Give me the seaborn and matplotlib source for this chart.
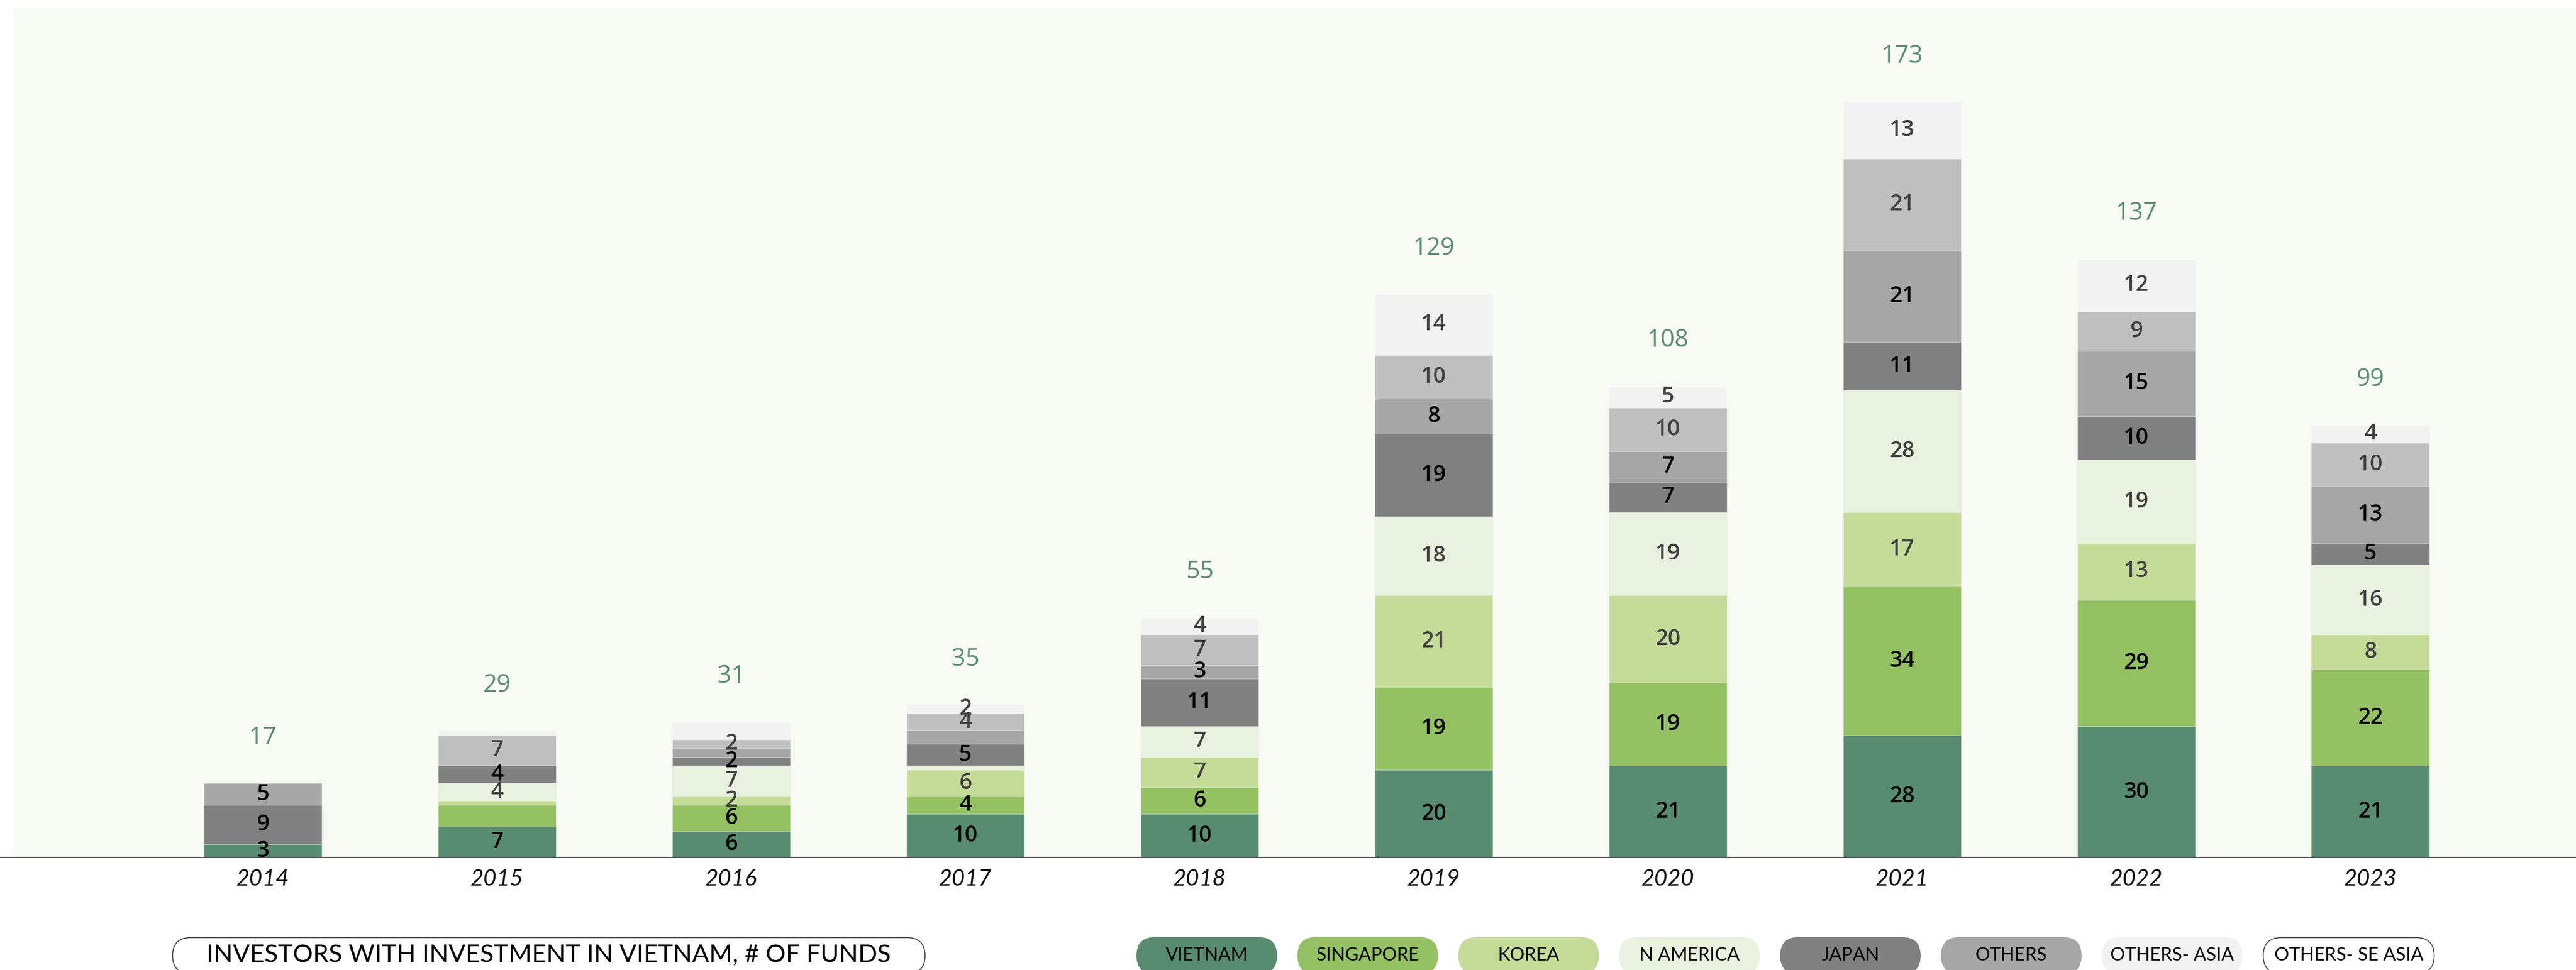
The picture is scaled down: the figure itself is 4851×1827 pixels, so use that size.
import matplotlib
matplotlib.use("Agg")
import matplotlib.pyplot as plt
from matplotlib.patches import FancyBboxPatch
import numpy as np
import pandas as pd
import seaborn as sns

# ---------------- data ----------------
years = ["2014", "2015", "2016", "2017", "2018", "2019", "2020", "2021", "2022", "2023"]
series_names = ["Vietnam", "Singapore", "Korea", "N America", "Japan", "Others",
                "Others- Asia", "Others- SE Asia"]
vietnam = [3, 7, 6, 10, 10, 20, 21, 28, 30, 21]
singapore = [0, 5, 6, 4, 6, 19, 19, 34, 29, 22]
korea = [0, 1, 2, 6, 7, 21, 20, 17, 13, 8]
n_america = [0, 4, 7, 1, 7, 18, 19, 28, 19, 16]
japan = [9, 4, 2, 5, 11, 19, 7, 11, 10, 5]
others = [5, 0, 2, 3, 3, 8, 7, 21, 15, 13]
others_asia = [0, 7, 2, 4, 7, 10, 10, 21, 9, 10]
others_se_asia = [0, 1, 4, 2, 4, 14, 5, 13, 12, 4]
totals = [17, 29, 31, 35, 55, 129, 108, 173, 137, 99]
legend_labels = ["VIETNAM", "SINGAPORE", "KOREA", "N AMERICA", "JAPAN", "OTHERS",
                 "OTHERS- ASIA", "OTHERS- SE ASIA"]
chart_title = "INVESTORS WITH INVESTMENT IN VIETNAM, # OF FUNDS"
# segment labels that are not printed in the source chart
hidden_labels = [("2015", "Singapore"), ("2015", "Korea"), ("2015", "Others- SE Asia"),
                 ("2016", "Others"), ("2016", "Others- SE Asia"),
                 ("2017", "N America"), ("2017", "Others")]

series_values = [vietnam, singapore, korea, n_america, japan, others,
                 others_asia, others_se_asia]

# ---------------- style ----------------
bar_colors = ["#578c71", "#94c162", "#c5dc98", "#e9f2de", "#808080", "#a6a6a6",
              "#bfbfbf", "#f2f2f2"]
legend_colors = ["#578c71", "#94c162", "#c5dc98", "#e9f2de", "#808080", "#a6a6a6",
                 "#f2f2f2", "#ffffff"]
label_colors = ["#000000", "#000000", "#404040", "#404040", "#000000", "#000000",
                "#404040", "#404040"]
total_color = "#5a8f72"
bg_color = "#f8faf4"
num_font = ["Open Sans", "DejaVu Sans"]

sns.set_theme(style="white")
plt.rcParams["font.family"] = ["Lato", "DejaVu Sans"]

W, H = 4851, 1827
DPI = 100
fig = plt.figure(figsize=(W / DPI, H / DPI), dpi=DPI)
fig.patch.set_facecolor("white")

ax_left, ax_top, ax_base = 25, 15, 1615
ax = fig.add_axes([ax_left / W, 1 - ax_base / H, 1 - ax_left / W, (ax_base - ax_top) / H])
ax.set_facecolor(bg_color)

df = pd.DataFrame({name: vals for name, vals in zip(series_names, series_values)})
df["year"] = years
cum = df[series_names].cumsum(axis=1)

# draw from the top layer down so each lower layer covers the previous one
for i in range(len(series_names) - 1, -1, -1):
    sns.barplot(x=df["year"], y=cum[series_names[i]], color=bar_colors[i],
                saturation=1, width=0.505, ax=ax,
                edgecolor=(1, 1, 1, 0.45), linewidth=1.0)

# segment labels
for j, yr in enumerate(years):
    bottom = 0
    for i, name in enumerate(series_names):
        v = series_values[i][j]
        if v > 0 and (yr, name) not in hidden_labels:
            ax.text(j, bottom + v / 2, str(v), ha="center", va="center",
                    fontsize=30, fontweight="semibold", family=num_font,
                    color=label_colors[i])
        bottom += v
    ax.text(j, totals[j] + 10.4, str(totals[j]), ha="center", va="center",
            fontsize=33, family=num_font, color=total_color)

ax.set_xlim(-1.066, 9.878)
ax.set_ylim(0, 194.5)
ax.set_xlabel("")
ax.set_ylabel("")
ax.set_yticks([])
ax.set_xticks(range(len(years)))
ax.set_xticklabels(years, fontsize=31, fontstyle="italic", color="#111111")
ax.tick_params(axis="x", length=0, pad=16)
for s in ax.spines.values():
    s.set_visible(False)

# overlay in pixel coordinates for baseline and legend pills
ov = fig.add_axes([0, 0, 1, 1])
ov.set_xlim(0, W)
ov.set_ylim(H, 0)
ov.axis("off")
ov.patch.set_alpha(0)
ov.plot([0, W], [ax_base, ax_base], color="#333333", lw=1.6, solid_capstyle="butt")

pill_top, pill_h = 1766, 68
# title pill
ov.add_patch(FancyBboxPatch((325, pill_top), 1417, pill_h,
                            boxstyle="round,pad=0,rounding_size=34",
                            facecolor="white", edgecolor="#444444", lw=1.3))
ov.text(1033, 1799, chart_title, ha="center", va="center", fontsize=34,
        fontweight="normal", color="#000000")

# legend pills
x0, step = 2141, 303
for k, (lab, col) in enumerate(zip(legend_labels, legend_colors)):
    w = 263 if k < len(legend_labels) - 1 else 322
    x = x0 + k * step
    ec = "#444444" if col == "#ffffff" else col
    ov.add_patch(FancyBboxPatch((x, pill_top), w, pill_h,
                                boxstyle="round,pad=0,rounding_size=34",
                                facecolor=col, edgecolor=ec, lw=1.3))
    ov.text(x + w / 2, 1799, lab, ha="center", va="center", fontsize=25,
            fontweight="normal", color="#000000")

fig.savefig("out.png", dpi=DPI, facecolor="white")
